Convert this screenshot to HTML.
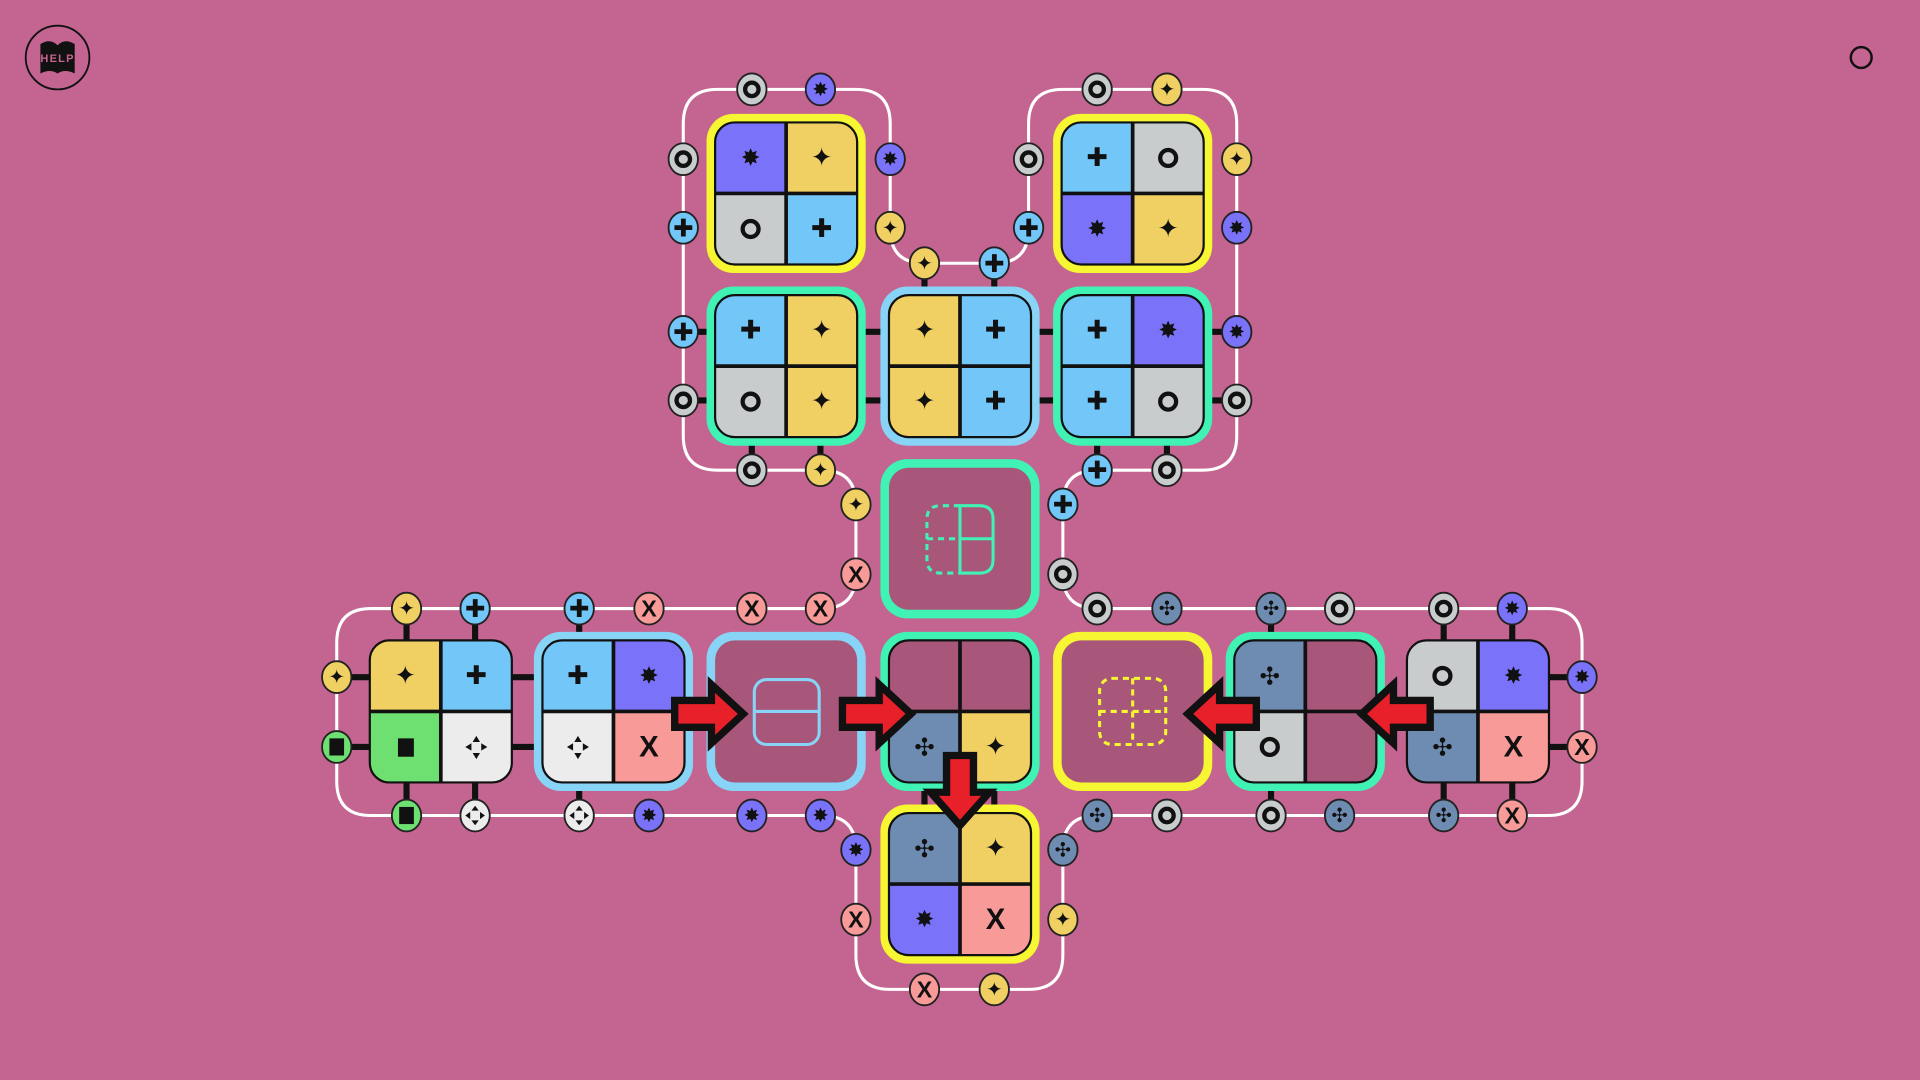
<!DOCTYPE html>
<html><head><meta charset="utf-8"><style>
html,body{margin:0;padding:0;background:#c46490;width:1920px;height:1080px;overflow:hidden}
svg{display:block}
.t{font-family:"DejaVu Sans",sans-serif;text-anchor:middle;dominant-baseline:central;fill:#111}
.n{stroke:#222;stroke-width:1.5}
.cs{font-size:21px}
.ns{font-size:16px}
.x{font-family:"Liberation Sans",sans-serif;font-weight:bold}
</style></head><body>
<svg width="1920" height="1080" viewBox="0 0 1568 882" xmlns="http://www.w3.org/2000/svg">
<defs><clipPath id="rc" clipPathUnits="objectBoundingBox"><rect x="0" y="0" width="1" height="1" rx="0.14" ry="0.14"/></clipPath></defs>
<rect width="1568" height="882" fill="#c46490"/>

<!-- help -->
<circle cx="47" cy="47" r="26" fill="none" stroke="#111" stroke-width="1.5"/>
<path d="M33 36 Q41 31 47 37 Q53 31 61 36 L61 60 Q53 56 47 60 Q41 56 33 60 Z" fill="#111"/>
<text x="47" y="48" class="t" style="font-size:9px;font-weight:bold;fill:#c46490;font-family:'Liberation Sans',sans-serif;letter-spacing:1px">HELP</text>
<circle cx="1520" cy="47" r="8.5" fill="none" stroke="#111" stroke-width="2"/>

<!-- white loop -->
<path d="M586,73 L699,73 Q727,73 727,101 L727,187 Q727,215 755,215 L812,215 Q840,215 840,187 L840,101 Q840,73 868,73 L982,73 Q1010,73 1010,101 L1010,356 Q1010,384 982,384 L896,384 Q868,384 868,412 L868,469 Q868,497 896,497 L1264,497 Q1292,497 1292,525 L1292,638 Q1292,666 1264,666 L896,666 Q868,666 868,694 L868,780 Q868,808 840,808 L727,808 Q699,808 699,780 L699,694 Q699,666 671,666 L303,666 Q275,666 275,638 L275,525 Q275,497 303,497 L671,497 Q699,497 699,469 L699,412 Q699,384 671,384 L586,384 Q558,384 558,356 L558,101 Q558,73 586,73 Z" fill="none" stroke="#fff" stroke-width="2.5"/>

<!-- black bars -->
<g stroke="#111" stroke-width="5">
<line x1="558" y1="271" x2="590" y2="271"/><line x1="558" y1="327" x2="590" y2="327"/>
<line x1="695" y1="271" x2="732" y2="271"/><line x1="695" y1="327" x2="732" y2="327"/>
<line x1="836" y1="271" x2="873" y2="271"/><line x1="836" y1="327" x2="873" y2="327"/>
<line x1="978" y1="271" x2="1010" y2="271"/><line x1="978" y1="327" x2="1010" y2="327"/>
<line x1="614" y1="350" x2="614" y2="384"/><line x1="670" y1="350" x2="670" y2="384"/>
<line x1="896" y1="350" x2="896" y2="384"/><line x1="953" y1="350" x2="953" y2="384"/>
<line x1="755" y1="215" x2="755" y2="248"/><line x1="812" y1="215" x2="812" y2="248"/>
<line x1="332" y1="497" x2="332" y2="530"/><line x1="388" y1="497" x2="388" y2="530"/>
<line x1="332" y1="632" x2="332" y2="666"/><line x1="388" y1="632" x2="388" y2="666"/>
<line x1="275" y1="553" x2="308" y2="553"/><line x1="275" y1="610" x2="308" y2="610"/>
<line x1="412" y1="553" x2="450" y2="553"/><line x1="412" y1="610" x2="450" y2="610"/>
<line x1="473" y1="497" x2="473" y2="530"/><line x1="473" y1="632" x2="473" y2="666"/>
<line x1="1038" y1="497" x2="1038" y2="530"/><line x1="1038" y1="632" x2="1038" y2="666"/>
<line x1="1179" y1="497" x2="1179" y2="530"/><line x1="1235" y1="497" x2="1235" y2="530"/>
<line x1="1179" y1="632" x2="1179" y2="666"/><line x1="1235" y1="632" x2="1235" y2="666"/>
<line x1="1258" y1="553" x2="1292" y2="553"/><line x1="1258" y1="610" x2="1292" y2="610"/>
<line x1="755" y1="630" x2="755" y2="672"/><line x1="812" y1="630" x2="812" y2="672"/>
</g>

<!-- frames -->
<g>
<rect x="577" y="93" width="130" height="130" rx="22" fill="#f6f632"/>
<rect x="860" y="93" width="130" height="130" rx="22" fill="#f6f632"/>
<rect x="577" y="234" width="130" height="130" rx="22" fill="#40f2b4"/>
<rect x="719" y="234" width="130" height="130" rx="22" fill="#88d4f6"/>
<rect x="860" y="234" width="130" height="130" rx="22" fill="#40f2b4"/>
<rect x="719" y="375" width="130" height="130" rx="22" fill="#40f2b4"/>
<rect x="436" y="516" width="130" height="130" rx="22" fill="#88d4f6"/>
<rect x="577" y="516" width="130" height="130" rx="22" fill="#88d4f6"/>
<rect x="719" y="516" width="130" height="130" rx="22" fill="#40f2b4"/>
<rect x="860" y="516" width="130" height="130" rx="22" fill="#f6f632"/>
<rect x="1001" y="516" width="130" height="130" rx="22" fill="#40f2b4"/>
<rect x="719" y="657" width="130" height="130" rx="22" fill="#f6f632"/>
</g>

<!-- empty tiles -->
<rect x="726" y="382" width="116" height="116" rx="16" fill="#a8577a"/>
<rect x="584" y="523" width="116" height="116" rx="16" fill="#a8577a"/>
<rect x="867" y="523" width="116" height="116" rx="16" fill="#a8577a"/>
<g fill="none" stroke="#40f2b4" stroke-width="2.5">
<path d="M784,413 L800,413 Q811,413 811,424 L811,457 Q811,468 800,468 L784,468 Z M784,440 L811,440"/>
<path d="M784,413 L768,413 Q757,413 757,424 L757,457 Q757,468 768,468 L784,468 M757,440 L784,440" stroke-dasharray="5,4"/>
</g>
<g fill="none" stroke="#88d4f6" stroke-width="2.5">
<rect x="616" y="555" width="53" height="53" rx="10"/><line x1="616" y1="581" x2="669" y2="581"/>
</g>
<g fill="none" stroke="#f6f632" stroke-width="2.5" stroke-dasharray="5,4">
<rect x="898" y="554" width="54" height="54" rx="10"/><line x1="898" y1="581" x2="952" y2="581"/><line x1="925" y1="554" x2="925" y2="608"/>
</g>

<!-- tile cells -->
<g clip-path="url(#rc)"><rect x="584" y="100" width="58" height="58" fill="#7a72f8"/><rect x="642" y="100" width="58" height="58" fill="#f0d062"/><rect x="584" y="158" width="58" height="58" fill="#c8cccd"/><rect x="642" y="158" width="58" height="58" fill="#72c6f8"/></g>
<g clip-path="url(#rc)"><rect x="867" y="100" width="58" height="58" fill="#72c6f8"/><rect x="925" y="100" width="58" height="58" fill="#c8cccd"/><rect x="867" y="158" width="58" height="58" fill="#7a72f8"/><rect x="925" y="158" width="58" height="58" fill="#f0d062"/></g>
<g clip-path="url(#rc)"><rect x="584" y="241" width="58" height="58" fill="#72c6f8"/><rect x="642" y="241" width="58" height="58" fill="#f0d062"/><rect x="584" y="299" width="58" height="58" fill="#c8cccd"/><rect x="642" y="299" width="58" height="58" fill="#f0d062"/></g>
<g clip-path="url(#rc)"><rect x="726" y="241" width="58" height="58" fill="#f0d062"/><rect x="784" y="241" width="58" height="58" fill="#72c6f8"/><rect x="726" y="299" width="58" height="58" fill="#f0d062"/><rect x="784" y="299" width="58" height="58" fill="#72c6f8"/></g>
<g clip-path="url(#rc)"><rect x="867" y="241" width="58" height="58" fill="#72c6f8"/><rect x="925" y="241" width="58" height="58" fill="#7a72f8"/><rect x="867" y="299" width="58" height="58" fill="#72c6f8"/><rect x="925" y="299" width="58" height="58" fill="#c8cccd"/></g>
<g clip-path="url(#rc)"><rect x="302" y="523" width="58" height="58" fill="#f0d062"/><rect x="360" y="523" width="58" height="58" fill="#72c6f8"/><rect x="302" y="581" width="58" height="58" fill="#6ee072"/><rect x="360" y="581" width="58" height="58" fill="#ececec"/></g>
<g clip-path="url(#rc)"><rect x="443" y="523" width="58" height="58" fill="#72c6f8"/><rect x="501" y="523" width="58" height="58" fill="#7a72f8"/><rect x="443" y="581" width="58" height="58" fill="#ececec"/><rect x="501" y="581" width="58" height="58" fill="#f89a98"/></g>
<g clip-path="url(#rc)"><rect x="726" y="523" width="58" height="58" fill="#a8577a"/><rect x="784" y="523" width="58" height="58" fill="#a8577a"/><rect x="726" y="581" width="58" height="58" fill="#6e8cb2"/><rect x="784" y="581" width="58" height="58" fill="#f0d062"/></g>
<g clip-path="url(#rc)"><rect x="1008" y="523" width="58" height="58" fill="#6e8cb2"/><rect x="1066" y="523" width="58" height="58" fill="#a8577a"/><rect x="1008" y="581" width="58" height="58" fill="#c8cccd"/><rect x="1066" y="581" width="58" height="58" fill="#a8577a"/></g>
<g clip-path="url(#rc)"><rect x="1149" y="523" width="58" height="58" fill="#c8cccd"/><rect x="1207" y="523" width="58" height="58" fill="#7a72f8"/><rect x="1149" y="581" width="58" height="58" fill="#6e8cb2"/><rect x="1207" y="581" width="58" height="58" fill="#f89a98"/></g>
<g clip-path="url(#rc)"><rect x="726" y="664" width="58" height="58" fill="#6e8cb2"/><rect x="784" y="664" width="58" height="58" fill="#f0d062"/><rect x="726" y="722" width="58" height="58" fill="#7a72f8"/><rect x="784" y="722" width="58" height="58" fill="#f89a98"/></g>

<!-- outlines + dividers -->
<g fill="none" stroke="#111">
<g stroke-width="1.8">
<rect x="584" y="100" width="116" height="116" rx="16"/><rect x="867" y="100" width="116" height="116" rx="16"/>
<rect x="584" y="241" width="116" height="116" rx="16"/><rect x="726" y="241" width="116" height="116" rx="16"/><rect x="867" y="241" width="116" height="116" rx="16"/>
<rect x="302" y="523" width="116" height="116" rx="16"/><rect x="443" y="523" width="116" height="116" rx="16"/><rect x="726" y="523" width="116" height="116" rx="16"/><rect x="1008" y="523" width="116" height="116" rx="16"/><rect x="1149" y="523" width="116" height="116" rx="16"/>
<rect x="726" y="664" width="116" height="116" rx="16"/>
</g>
<g stroke-width="3">
<path d="M642,100V216M584,158H700 M925,100V216M867,158H983 M642,241V357M584,299H700 M784,241V357M726,299H842 M925,241V357M867,299H983"/>
<path d="M360,523V639M302,581H418 M501,523V639M443,581H559 M784,523V639M726,581H842 M1066,523V639M1008,581H1124 M1207,523V639M1149,581H1265 M784,664V780M726,722H842"/>
</g>
</g>

<!-- cell symbols -->
<g>
<text x="613" y="129" class="t" style="font-size:19px">✸</text><text x="671" y="129" class="t cs">✦</text><circle cx="613" cy="187" r="6.5" fill="none" stroke="#111" stroke-width="3.5"/><text x="671" y="187" class="t cs">✚</text>
<text x="896" y="129" class="t cs">✚</text><circle cx="954" cy="129" r="6.5" fill="none" stroke="#111" stroke-width="3.5"/><text x="896" y="187" class="t" style="font-size:19px">✸</text><text x="954" y="187" class="t cs">✦</text>
<text x="613" y="270" class="t cs">✚</text><text x="671" y="270" class="t cs">✦</text><circle cx="613" cy="328" r="6.5" fill="none" stroke="#111" stroke-width="3.5"/><text x="671" y="328" class="t cs">✦</text>
<text x="755" y="270" class="t cs">✦</text><text x="813" y="270" class="t cs">✚</text><text x="755" y="328" class="t cs">✦</text><text x="813" y="328" class="t cs">✚</text>
<text x="896" y="270" class="t cs">✚</text><text x="954" y="270" class="t" style="font-size:19px">✸</text><text x="896" y="328" class="t cs">✚</text><circle cx="954" cy="328" r="6.5" fill="none" stroke="#111" stroke-width="3.5"/>
<text x="331" y="552" class="t cs">✦</text><text x="389" y="552" class="t cs">✚</text><rect x="325" y="603" width="13" height="15" fill="#111"/>
<g fill="#111"><path d="M389,601 l-3,5 h6z M389,620 l-3,-5 h6z M380,610 l5,-3 v6z M398,610 l-5,-3 v6z"/></g>
<text x="472" y="552" class="t cs">✚</text><text x="530" y="552" class="t" style="font-size:19px">✸</text>
<g fill="#111"><path d="M472,601 l-3,5 h6z M472,620 l-3,-5 h6z M463,610 l5,-3 v6z M481,610 l-5,-3 v6z"/></g>
<text x="530" y="610" class="t x" style="font-size:24px">X</text>
<text x="755" y="610" class="t" style="font-size:20px">✣</text><text x="813" y="610" class="t cs">✦</text>
<text x="1037" y="552" class="t" style="font-size:20px">✣</text><circle cx="1037" cy="610" r="6.5" fill="none" stroke="#111" stroke-width="3.5"/>
<circle cx="1178" cy="552" r="6.5" fill="none" stroke="#111" stroke-width="3.5"/><text x="1236" y="552" class="t" style="font-size:19px">✸</text><text x="1178" y="610" class="t" style="font-size:20px">✣</text><text x="1236" y="610" class="t x" style="font-size:24px">X</text>
<text x="755" y="693" class="t" style="font-size:20px">✣</text><text x="813" y="693" class="t cs">✦</text><text x="755" y="751" class="t" style="font-size:19px">✸</text><text x="813" y="751" class="t x" style="font-size:24px">X</text>
</g>

<!-- arrows -->
<g fill="#e8202a" stroke="#111" stroke-width="6" stroke-linejoin="miter">
<polygon points="551,572 581,572 581,559 607,583 581,607 581,594 551,594"/>
<polygon points="688,572 718,572 718,559 744,583 718,607 718,594 688,594"/>
<polygon points="1026,572 996,572 996,559 970,583 996,607 996,594 1026,594"/>
<polygon points="1168,572 1138,572 1138,559 1112,583 1138,607 1138,594 1168,594"/>
<polygon points="773,617 773,647 760,647 784,674 808,647 795,647 795,617"/>
</g>

<!-- nodes -->
<g>
<g fill="#c8cccd" class="n">
<ellipse cx="614" cy="73" rx="12" ry="13"/><ellipse cx="558" cy="130" rx="12" ry="13"/><ellipse cx="840" cy="130" rx="12" ry="13"/><ellipse cx="896" cy="73" rx="12" ry="13"/>
<ellipse cx="558" cy="327" rx="12" ry="13"/><ellipse cx="1010" cy="327" rx="12" ry="13"/><ellipse cx="614" cy="384" rx="12" ry="13"/><ellipse cx="953" cy="384" rx="12" ry="13"/><ellipse cx="868" cy="469" rx="12" ry="13"/>
<ellipse cx="896" cy="497" rx="12" ry="13"/><ellipse cx="1094" cy="497" rx="12" ry="13"/><ellipse cx="1179" cy="497" rx="12" ry="13"/>
<ellipse cx="953" cy="666" rx="12" ry="13"/><ellipse cx="1038" cy="666" rx="12" ry="13"/>
</g>
<g fill="none" stroke="#111" stroke-width="3.5">
<circle cx="614" cy="73" r="5.5"/><circle cx="558" cy="130" r="5.5"/><circle cx="840" cy="130" r="5.5"/><circle cx="896" cy="73" r="5.5"/>
<circle cx="558" cy="327" r="5.5"/><circle cx="1010" cy="327" r="5.5"/><circle cx="614" cy="384" r="5.5"/><circle cx="953" cy="384" r="5.5"/><circle cx="868" cy="469" r="5.5"/>
<circle cx="896" cy="497" r="5.5"/><circle cx="1094" cy="497" r="5.5"/><circle cx="1179" cy="497" r="5.5"/>
<circle cx="953" cy="666" r="5.5"/><circle cx="1038" cy="666" r="5.5"/>
</g>
<g fill="#7a72f8" class="n">
<ellipse cx="670" cy="73" rx="12" ry="13"/><ellipse cx="727" cy="130" rx="12" ry="13"/><ellipse cx="1010" cy="186" rx="12" ry="13"/><ellipse cx="1010" cy="271" rx="12" ry="13"/>
<ellipse cx="1235" cy="497" rx="12" ry="13"/><ellipse cx="1292" cy="553" rx="12" ry="13"/>
<ellipse cx="530" cy="666" rx="12" ry="13"/><ellipse cx="614" cy="666" rx="12" ry="13"/><ellipse cx="670" cy="666" rx="12" ry="13"/><ellipse cx="699" cy="694" rx="12" ry="13"/>
</g>
<g class="t ns">
<text x="670" y="73">✸</text><text x="727" y="130">✸</text><text x="1010" y="186">✸</text><text x="1010" y="271">✸</text>
<text x="1235" y="497">✸</text><text x="1292" y="553">✸</text>
<text x="530" y="666">✸</text><text x="614" y="666">✸</text><text x="670" y="666">✸</text><text x="699" y="694">✸</text>
</g>
<g fill="#f0d062" class="n">
<ellipse cx="953" cy="73" rx="12" ry="13"/><ellipse cx="727" cy="186" rx="12" ry="13"/><ellipse cx="755" cy="215" rx="12" ry="13"/><ellipse cx="1010" cy="130" rx="12" ry="13"/>
<ellipse cx="670" cy="384" rx="12" ry="13"/><ellipse cx="699" cy="412" rx="12" ry="13"/><ellipse cx="332" cy="497" rx="12" ry="13"/><ellipse cx="275" cy="553" rx="12" ry="13"/>
<ellipse cx="868" cy="751" rx="12" ry="13"/><ellipse cx="812" cy="808" rx="12" ry="13"/>
</g>
<g class="t ns">
<text x="953" y="73">✦</text><text x="727" y="186">✦</text><text x="755" y="215">✦</text><text x="1010" y="130">✦</text>
<text x="670" y="384">✦</text><text x="699" y="412">✦</text><text x="332" y="497">✦</text><text x="275" y="553">✦</text>
<text x="868" y="751">✦</text><text x="812" y="808">✦</text>
</g>
<g fill="#72c6f8" class="n">
<ellipse cx="558" cy="186" rx="12" ry="13"/><ellipse cx="812" cy="215" rx="12" ry="13"/><ellipse cx="840" cy="186" rx="12" ry="13"/><ellipse cx="558" cy="271" rx="12" ry="13"/>
<ellipse cx="896" cy="384" rx="12" ry="13"/><ellipse cx="868" cy="412" rx="12" ry="13"/><ellipse cx="388" cy="497" rx="12" ry="13"/><ellipse cx="473" cy="497" rx="12" ry="13"/>
</g>
<g class="t" style="font-size:20px">
<text x="558" y="186">✚</text><text x="812" y="215">✚</text><text x="840" y="186">✚</text><text x="558" y="271">✚</text>
<text x="896" y="384">✚</text><text x="868" y="412">✚</text><text x="388" y="497">✚</text><text x="473" y="497">✚</text>
</g>
<g fill="#f89a98" class="n">
<ellipse cx="699" cy="469" rx="12" ry="13"/><ellipse cx="530" cy="497" rx="12" ry="13"/><ellipse cx="614" cy="497" rx="12" ry="13"/><ellipse cx="670" cy="497" rx="12" ry="13"/>
<ellipse cx="1292" cy="610" rx="12" ry="13"/><ellipse cx="1235" cy="666" rx="12" ry="13"/><ellipse cx="699" cy="751" rx="12" ry="13"/><ellipse cx="755" cy="808" rx="12" ry="13"/>
</g>
<g class="t x" style="font-size:19px">
<text x="699" y="469">X</text><text x="530" y="497">X</text><text x="614" y="497">X</text><text x="670" y="497">X</text>
<text x="1292" y="610">X</text><text x="1235" y="666">X</text><text x="699" y="751">X</text><text x="755" y="808">X</text>
</g>
<g fill="#6e8cb2" class="n">
<ellipse cx="953" cy="497" rx="12" ry="13"/><ellipse cx="1038" cy="497" rx="12" ry="13"/><ellipse cx="896" cy="666" rx="12" ry="13"/><ellipse cx="1094" cy="666" rx="12" ry="13"/>
<ellipse cx="1179" cy="666" rx="12" ry="13"/><ellipse cx="868" cy="694" rx="12" ry="13"/>
</g>
<g class="t ns">
<text x="953" y="497">✣</text><text x="1038" y="497">✣</text><text x="896" y="666">✣</text><text x="1094" y="666">✣</text>
<text x="1179" y="666">✣</text><text x="868" y="694">✣</text>
</g>
<g fill="#6ee072" class="n"><ellipse cx="275" cy="610" rx="12" ry="13"/><ellipse cx="332" cy="666" rx="12" ry="13"/></g>
<rect x="269" y="603" width="12" height="14" fill="#111"/><rect x="326" y="659" width="12" height="14" fill="#111"/>
<g fill="#ececec" class="n"><ellipse cx="388" cy="666" rx="12" ry="13"/><ellipse cx="473" cy="666" rx="12" ry="13"/></g>
<g fill="#111">
<path d="M388,658 l-3,4 h6z M388,674 l-3,-4 h6z M380,666 l4,-3 v6z M396,666 l-4,-3 v6z"/>
<path d="M473,658 l-3,4 h6z M473,674 l-3,-4 h6z M465,666 l4,-3 v6z M481,666 l-4,-3 v6z"/>
</g>
</g>
</svg>
</body></html>
